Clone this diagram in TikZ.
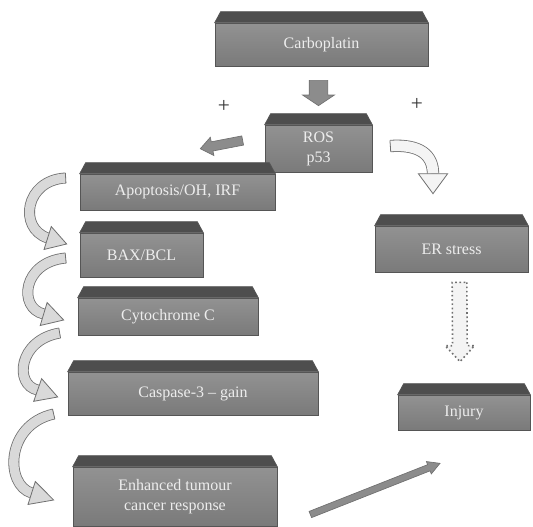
\documentclass[tikz,border=0pt]{standalone}
\usepackage{fontspec}
\setmainfont{Liberation Serif}
\usetikzlibrary{calc}
\definecolor{boxfronttop}{HTML}{929292}
\definecolor{boxfrontbot}{HTML}{7A7A7A}
\definecolor{boxtop}{HTML}{4E4E4E}
\definecolor{boxedge}{HTML}{555555}
\definecolor{boxtext}{HTML}{EDEDED}
\definecolor{arrowgray}{HTML}{8C8C8C}
\definecolor{arrowline}{HTML}{707070}
\definecolor{ribbonfill}{HTML}{D9D9D9}
\definecolor{ribbonlight}{HTML}{F4F4F4}

\newcommand\topface[1]{%
  \filldraw[fill=boxtop, draw=boxedge, line width=0.5pt]
    (#1.north west) -- ++(6,-11) -- ($(#1.north east)+(-6,-11)$) -- (#1.north east) -- cycle;}

% style, start, end, half shaft, half head, head length
\newcommand\blockarrow[6]{%
  \coordinate (ba-h) at ($(#3)!#6!(#2)$);
  \path[#1] ($(#2)!#4!90:(#3)$) -- ($(ba-h)!#4!90:(#3)$) -- ($(ba-h)!#5!90:(#3)$)
    -- (#3) -- ($(ba-h)!#5!-90:(#3)$) -- ($(ba-h)!#4!-90:(#3)$) -- ($(#2)!#4!-90:(#3)$) -- cycle;}

% fill, start, c1, c2, end, tip, shaft width, head half width
\newcommand\ribbonarrow[8]{%
  \draw[arrowline, line width=0.6pt, double=#1, double distance=#7]
    (#2) .. controls (#3) and (#4) .. (#5);
  \draw[arrowline, line width=0.6pt] ($(#2)!#7/2+0.3pt!90:(#3)$) -- ($(#2)!#7/2+0.3pt!-90:(#3)$);
  \filldraw[fill=#1, draw=arrowline, line width=0.6pt]
    ($(#5)!#8!90:(#6)$) -- (#6) -- ($(#5)!#8!-90:(#6)$) -- cycle;}

\tikzset{
  cube/.style={draw=boxedge, line width=0.5pt, top color=boxfronttop, bottom color=boxfrontbot,
    text=boxtext, font=\fontsize{12}{15}\selectfont, align=center, inner sep=0pt},
  plus/.style={font=\fontsize{16}{16}\selectfont, text=black!80},
  solidarrow/.style={fill=arrowgray, draw=arrowline, line width=0.5pt},
  dotarrow/.style={fill=ribbonlight, draw=arrowline, line width=1.2pt, dotted},
}

\begin{document}
\begin{tikzpicture}[x=0.75pt, y=-0.75pt]
\useasboundingbox (0,0) rectangle (533,526);

% boxes
\node[cube, minimum width=159.75pt, minimum height=32.25pt] (b1) at (321.5,44.5) {Carboplatin};
\topface{b1}
\node[cube, minimum width=80.25pt, minimum height=35.25pt] (b2) at (318.5,148.5) {ROS\\p53};
\topface{b2}
\node[cube, minimum width=146.25pt, minimum height=27pt] (b3) at (177.5,192) {Apoptosis/OH, IRF};
\topface{b3}
\node[cube, minimum width=92.25pt, minimum height=33pt] (b4) at (141.5,255) {BAX/BCL};
\topface{b4}
\node[cube, minimum width=135pt, minimum height=27.75pt] (b5) at (168,316.5) {Cytochrome C};
\topface{b5}
\node[cube, minimum width=187.5pt, minimum height=32.25pt] (b6) at (193,393.5) {Caspase-3 -- gain};
\topface{b6}
\node[cube, minimum width=153pt, minimum height=44.25pt] (b7) at (175,496.5) {Enhanced tumour\\cancer response};
\topface{b7}
\node[cube, minimum width=114.75pt, minimum height=34.5pt] (b8) at (451.5,249) {ER stress};
\topface{b8}
\node[cube, minimum width=99pt, minimum height=26.25pt] (b9) at (464,412.5) {Injury};
\topface{b9}

% plus signs
\node[plus] (p1) at (224,106) {+};
\node[plus] (p2) at (417,104) {+};

% down arrow b1 -> b2
\coordinate (d1s) at ($(b1.south)+(-3,14)$);
\coordinate (d1e) at ($(b2.north)+(0,-19)$);
\blockarrow{solidarrow}{d1s}{d1e}{7pt}{12pt}{8pt}

% left arrow b2 -> b3
\coordinate (l1s) at ($(b2.west)+(-22,-8)$);
\coordinate (l1e) at ($(b3.north east)+(-75,-25)$);
\blockarrow{solidarrow}{l1s}{l1e}{3.5pt}{7pt}{9pt}

% right curved arrow b2 -> b8
\coordinate (rs) at ($(b2.east)+(18,-2.5)$);
\coordinate (re) at ($(b8.north)+(-18.5,-52)$);
\coordinate (rt) at ($(b8.north)+(-18.5,-32)$);
\ribbonarrow{ribbonlight}{rs}{420,144}{433,155}{re}{rt}{8pt}{11pt}

% left chain curved arrows
\coordinate (c1s) at ($(b3.west)+(-14,-14)$);
\coordinate (c1e) at ($(b4.west)+(-32,-17)$);
\coordinate (c1t) at ($(b4.west)+(-13,-11)$);
\ribbonarrow{ribbonfill}{c1s}{25,180}{18,228}{c1e}{c1t}{7pt}{9pt}

\coordinate (c2s) at ($(b4.west)+(-14,3)$);
\coordinate (c2e) at ($(b5.west)+(-34,-2.5)$);
\coordinate (c2t) at ($(b5.west)+(-14,3.5)$);
\ribbonarrow{ribbonfill}{c2s}{22,262}{18,308}{c2e}{c2t}{7pt}{9pt}

\coordinate (c3s) at ($(b5.west)+(-18,16.5)$);
\coordinate (c3e) at ($(b6.west)+(-30,-3.5)$);
\coordinate (c3t) at ($(b6.west)+(-10,3.5)$);
\ribbonarrow{ribbonfill}{c3s}{18,340}{14,385}{c3e}{c3t}{7pt}{9pt}

\coordinate (c4s) at ($(b6.west)+(-14,20.5)$);
\coordinate (c4e) at ($(b7.west)+(-41,-3.5)$);
\coordinate (c4t) at ($(b7.west)+(-19,3.5)$);
\ribbonarrow{ribbonfill}{c4s}{5,425}{5,485}{c4e}{c4t}{7pt}{9pt}

% dotted arrow b8 -> b9
\coordinate (ds) at ($(b8.south)+(8,10)$);
\coordinate (de) at ($(b9.north)+(-4,-33)$);
\blockarrow{dotarrow}{ds}{de}{5.5pt}{11pt}{12pt}

% straight arrow b7 -> towards b9
\coordinate (ss) at ($(b7.east)+(33,18)$);
\coordinate (se) at ($(b9.south)+(-24,33)$);
\blockarrow{solidarrow}{ss}{se}{2.5pt}{5pt}{9pt}
\end{tikzpicture}
\end{document}
